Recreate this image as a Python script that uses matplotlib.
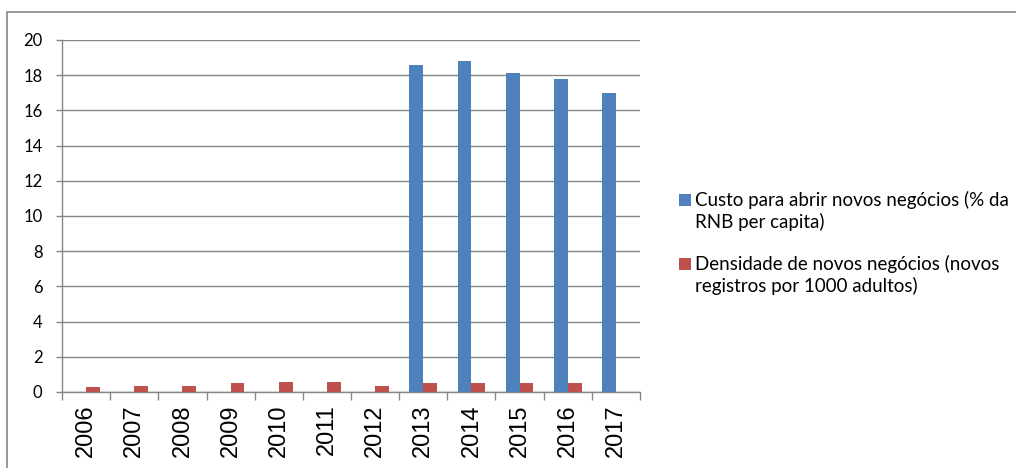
import matplotlib
matplotlib.use("Agg")
import matplotlib.pyplot as plt
import numpy as np
from matplotlib.patches import Rectangle

years = ["2006", "2007", "2008", "2009", "2010", "2011", "2012",
         "2013", "2014", "2015", "2016", "2017"]
custo = [np.nan, np.nan, np.nan, np.nan, np.nan, np.nan, np.nan,
         18.6, 18.8, 18.1, 17.8, 17.0]
densidade = [0.27, 0.35, 0.35, 0.5, 0.58, 0.58, 0.35,
             0.5, 0.5, 0.52, 0.5, np.nan]
series_lines = [["Custo para abrir novos negócios (% da", "RNB per capita)"],
                ["Densidade de novos negócios (novos", "registros por 1000 adultos)"]]
colors = ["#4F81BD", "#C0504D"]
yticks = [0, 2, 4, 6, 8, 10, 12, 14, 16, 18, 20]

W, H = 1016, 468
fig = plt.figure(figsize=(W / 100, H / 100), dpi=100)

def fx(px):
    return px / W

def fy(py):
    return 1 - py / H

# outer chart border
fig.patches.append(Rectangle((fx(7), fy(12) - 2), 2, 2, transform=fig.transFigure,
                             fill=False, edgecolor="#868686", linewidth=1.2))

ax = fig.add_axes([fx(62), fy(392), fx(640) - fx(62), fy(40) - fy(392)])
x = np.arange(len(years))
bw = 1 / 3.5
ax.bar(x - bw / 2, custo, width=bw, color=colors[0], zorder=3)
ax.bar(x + bw / 2, densidade, width=bw, color=colors[1], zorder=3)

ax.set_xlim(-0.5, len(years) - 0.5)
ax.set_ylim(0, 20)
ax.set_yticks(yticks)
ax.set_yticklabels([str(v) for v in yticks], fontfamily="Lato", fontsize=12)
ax.yaxis.grid(True, color="#868686", linewidth=1.0, zorder=0)
ax.set_axisbelow(True)

ax.set_xticks(np.arange(len(years) + 1) - 0.5, minor=False)
ax.set_xticklabels([])
ax.set_xticks(x, minor=True)
ax.set_xticklabels(years, minor=True, rotation=90, fontfamily="Liberation Sans",
                   fontsize=17)
ax.tick_params(axis="x", which="minor", length=0, pad=9)
ax.tick_params(axis="x", which="major", length=6, width=1.0, color="#868686")
ax.tick_params(axis="y", length=4, width=1.0, color="#868686", pad=10)

for s in ["top", "right"]:
    ax.spines[s].set_visible(False)
for s in ["left", "bottom"]:
    ax.spines[s].set_color("#868686")
    ax.spines[s].set_linewidth(1.0)

# legend drawn manually
entries = [(194, 206), (258, 270)]
line_gap = 22
for (top, base), lines, c in zip(entries, series_lines, colors):
    fig.patches.append(Rectangle((fx(679), fy(base)), fx(691) - fx(679), fy(top) - fy(base),
                                 transform=fig.transFigure, facecolor=c, edgecolor="none"))
    for i, ln in enumerate(lines):
        fig.text(fx(695), fy(base + i * line_gap), ln, fontfamily="Lato", fontsize=13.5,
                 va="baseline", ha="left")

fig.savefig("out.png", dpi=100)
